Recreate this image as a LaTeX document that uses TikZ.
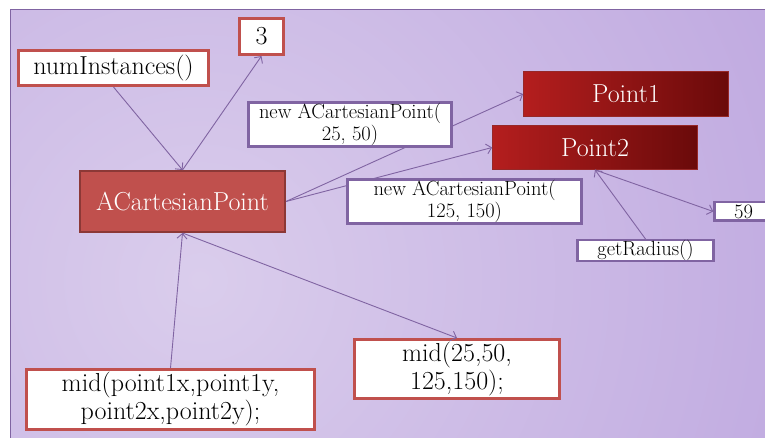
\documentclass[tikz,border=0pt]{standalone}
\usetikzlibrary{arrows.meta}
\definecolor{accPurple}{HTML}{8064A2}
\definecolor{accRed}{HTML}{C0504D}
\definecolor{accRedDark}{HTML}{8C3836}
\definecolor{bgIn}{HTML}{DACDEC}
\definecolor{bgOut}{HTML}{A98BD6}
\definecolor{ptLeft}{HTML}{B41E1E}
\definecolor{ptRight}{HTML}{6A0A0A}
\definecolor{ptEdge}{HTML}{962828}
\pgfdeclareradialshading{bgglow}{\pgfpoint{0bp}{0bp}}{color(0bp)=(bgIn); color(50bp)=(bgOut)}
\tikzset{
  bigfont/.style={font=\fontsize{26}{28}\selectfont},
  smallfont/.style={font=\fontsize{20.5}{22}\selectfont},
  redbox/.style={draw=accRed, line width=3pt, fill=white, bigfont, inner sep=0pt, align=center},
  purplebox/.style={draw=accPurple, line width=2.5pt, fill=white, smallfont, inner sep=0pt, align=center},
  classbox/.style={draw=accRedDark, line width=2pt, fill=accRed, text=white, bigfont, inner sep=0pt},
  objbox/.style={left color=ptLeft, right color=ptRight, draw=ptEdge, line width=0.8pt, text=white, bigfont, inner sep=0pt},
  conn/.style={draw=accPurple, line width=0.9pt, -{Straight Barb[length=5pt,width=10pt]}}
}
\begin{document}
\begin{tikzpicture}[x=1pt, y=-1pt]
\useasboundingbox (0,0) rectangle (765,438);
\begin{scope}
\clip (10,10) rectangle (765,438);
\shade[shading=bgglow] (-400,-320) rectangle (800,880);
\end{scope}
\draw[accPurple, line width=1pt] (10,438) -- (10,10) -- (765,10);

\node[redbox, minimum width=190pt, minimum height=35pt] (numInst) at (113.5,68) {numInstances()};
\node[redbox, minimum width=44pt, minimum height=36pt] (three) at (261.5,36.5) {3};
\node[classbox, minimum width=205pt, minimum height=61pt] (acp) at (182.5,201.5) {ACartesianPoint};
\node[objbox, minimum width=205pt, minimum height=45pt] (p1) at (626,94) {Point1};
\node[objbox, minimum width=205pt, minimum height=44pt] (p2) at (595,147.5) {Point2};
\node[purplebox, minimum width=58pt, minimum height=18.5pt] (r59) at (743.5,211.5) {59};
\node[purplebox, minimum width=136pt, minimum height=20.5pt] (radius) at (645.5,250.5) {getRadius()};
\node[redbox, minimum width=205pt, minimum height=59pt] (midA) at (457,369) {mid(25,50,\\125,150);};
\node[redbox, minimum width=288pt, minimum height=60pt] (midB) at (170.5,399.5) {mid(point1x,point1y,\\point2x,point2y);};

\draw[conn] (numInst.south) -- (acp.north);
\draw[conn] (acp.north) -- (three.south);
\draw[conn] (acp.east) -- (p1.west);
\draw[conn] (acp.east) -- (p2.west);
\draw[conn] (p2.south) -- (r59.west);
\draw[conn] (radius.north) -- (p2.south);
\draw[conn] (midB.north) -- (acp.south);
\draw[conn] (acp.south) -- (midA.north);

\node[purplebox, minimum width=203pt, minimum height=44pt] (newA) at (350,124.5) {new ACartesianPoint(\\25, 50)};
\node[purplebox, minimum width=234pt, minimum height=44pt] (newB) at (464.5,201.5) {new ACartesianPoint(\\125, 150)};
\end{tikzpicture}
\end{document}
